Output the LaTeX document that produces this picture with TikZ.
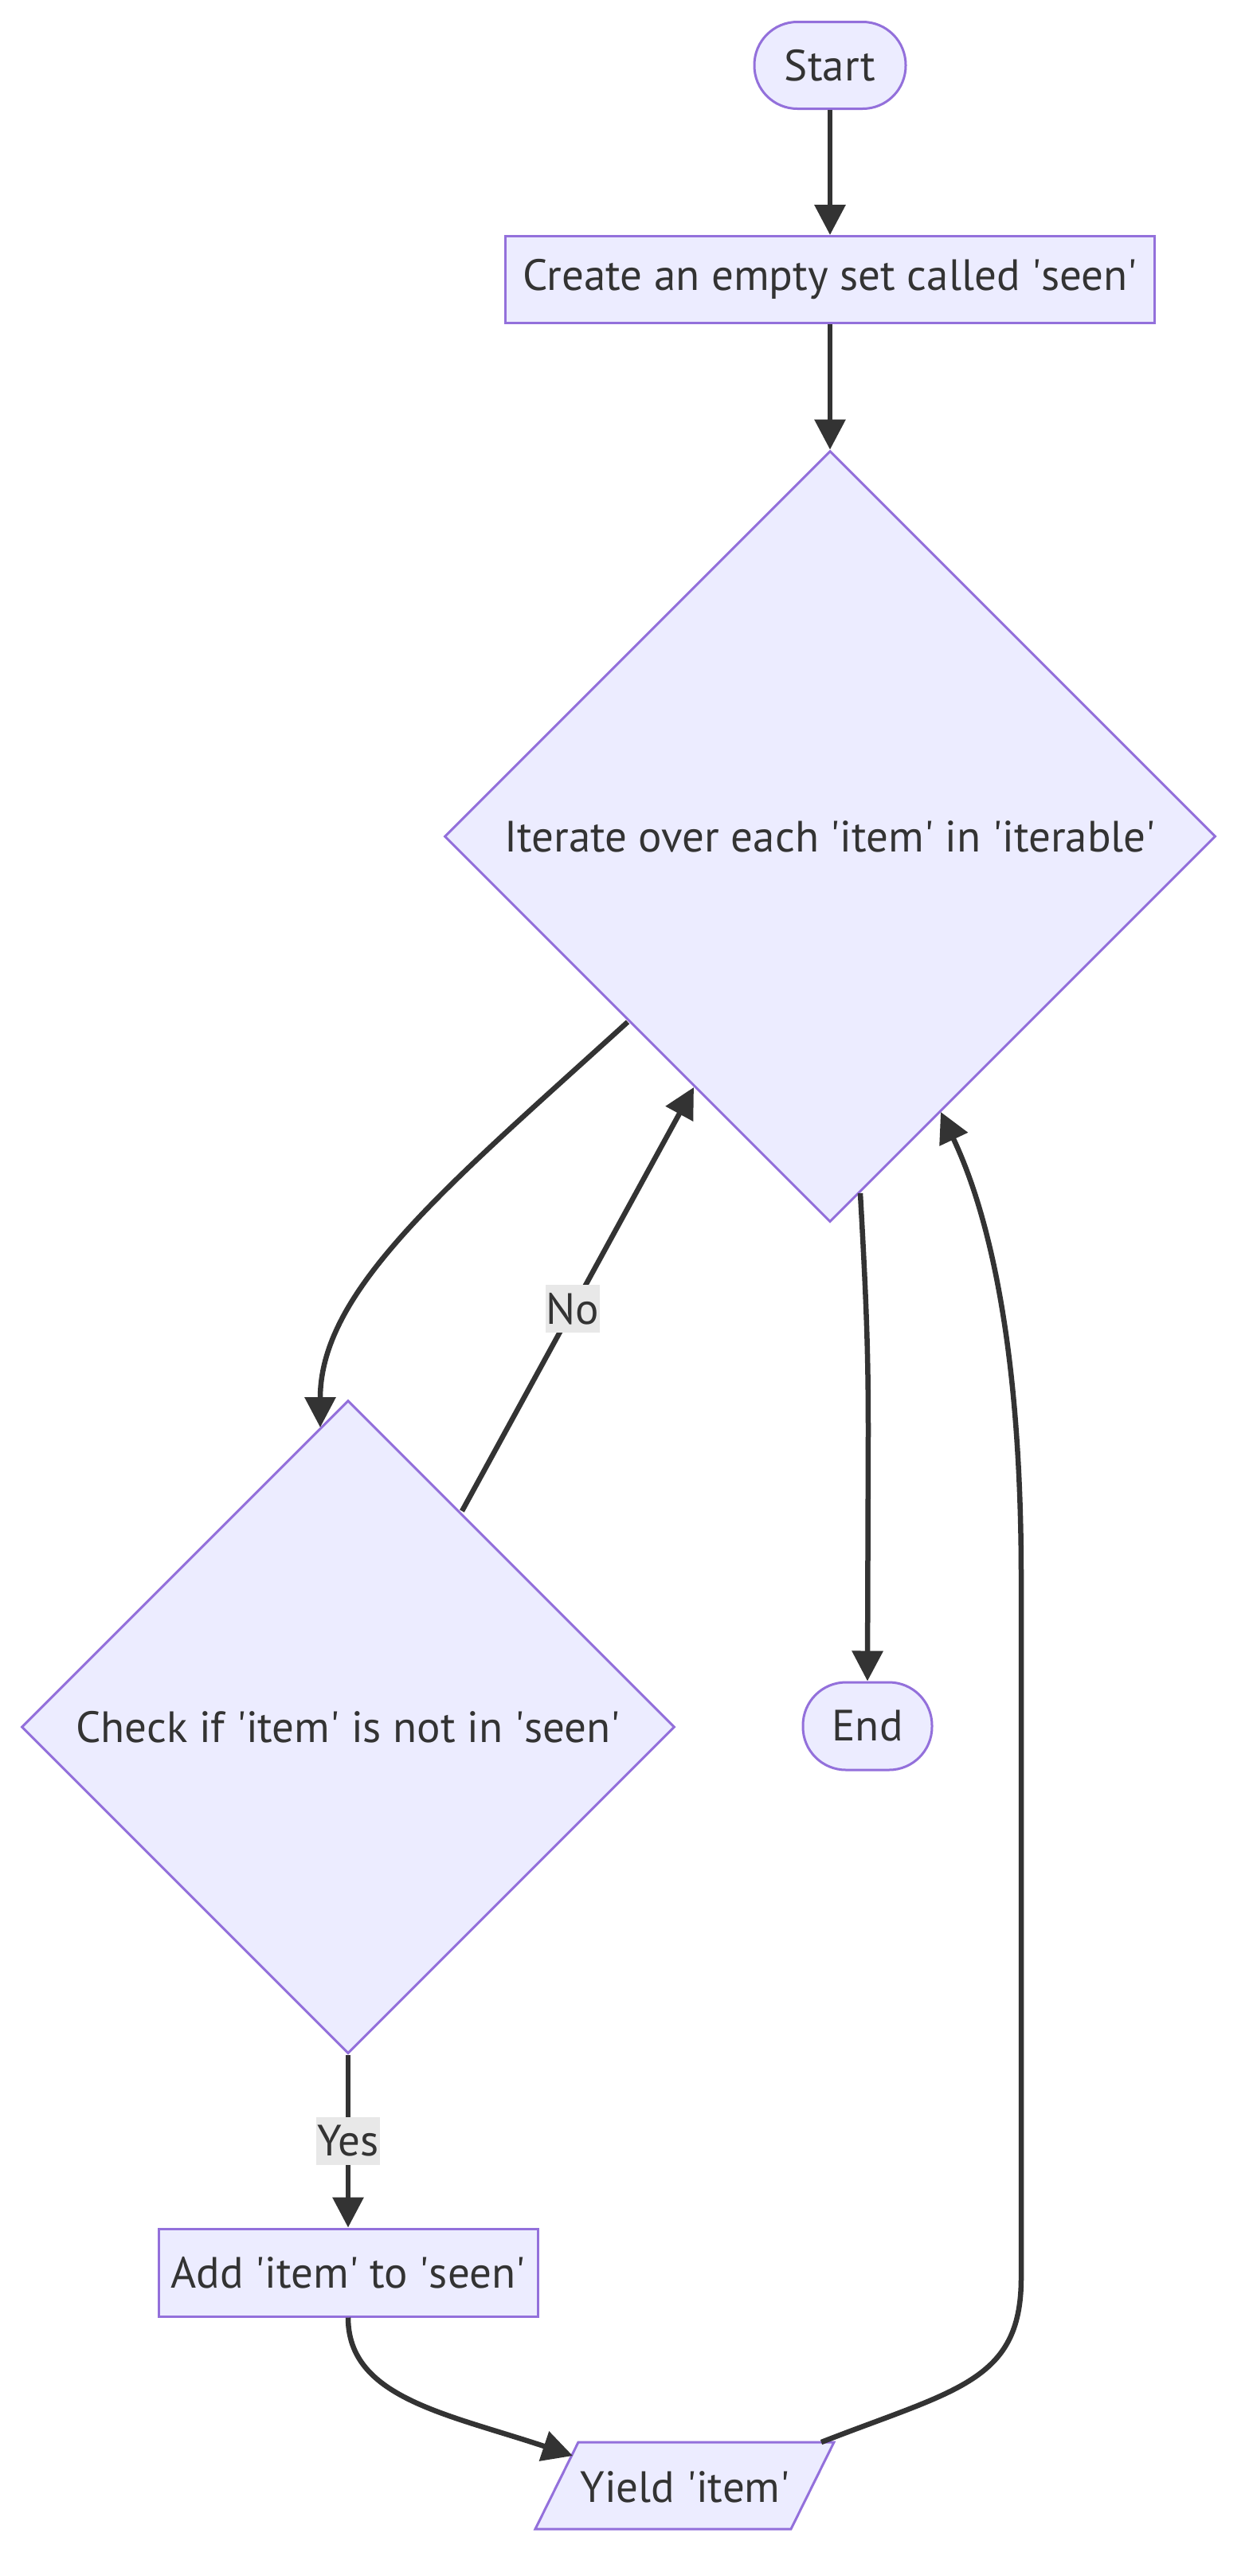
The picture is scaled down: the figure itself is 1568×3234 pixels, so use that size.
\documentclass[tikz,border=0pt]{standalone}
\usepackage{fontspec}
\setmainfont{PT Sans}
\usetikzlibrary{arrows.meta,shapes.geometric}
\definecolor{nodefill}{HTML}{ECECFF}
\definecolor{nodestroke}{HTML}{9370DB}
\definecolor{edgecol}{HTML}{333333}
\definecolor{labelbg}{HTML}{E8E8E8}
\newcommand{\sq}{\textquotesingle}
\begin{document}
\begin{tikzpicture}[x=1pt,y=-1pt,
  base/.style={draw=nodestroke, fill=nodefill, line width=3pt, text=edgecol,
    font=\fontsize{55}{66}\selectfont, inner sep=0pt},
  term/.style={base, rectangle, rounded corners=54pt, minimum height=109pt},
  proc/.style={base, rectangle, minimum height=109pt},
  deci/.style={base, diamond, minimum width=968pt, minimum height=968pt},
  conn/.style={draw=edgecol, line width=6.5pt, -{Triangle[length=38pt,width=38pt]}},
  elabel/.style={fill=labelbg, text=edgecol, font=\fontsize{55}{66}\selectfont,
    inner xsep=1pt, inner ysep=0pt, minimum height=60pt}]
\fill[white] (0,0) rectangle (1568,3234);
\useasboundingbox (0,0) rectangle (1568,3234);

\node[term, minimum width=190pt] (start) at (1042,82) {Start};
\node[proc, minimum width=815pt] (create) at (1042,351) {Create an empty set called \sq seen\sq};
\node[deci] (d1) at (1042,1050) {Iterate over each \sq item\sq\ in \sq iterable\sq};
\node[deci, minimum width=820pt, minimum height=820pt] (d2) at (437,2168) {Check if \sq item\sq\ is not in \sq seen\sq};
\node[term, minimum width=162pt, minimum height=110pt] (end) at (1089,2167) {End};
\node[proc, minimum width=476pt, minimum height=110pt] (add) at (437,2853) {Add \sq item\sq\ to \sq seen\sq};
\filldraw[draw=nodestroke, fill=nodefill, line width=3pt]
  (672,3175) -- (726,3066) -- (1047,3066) -- (993,3175) -- cycle;
\node[text=edgecol, font=\fontsize{55}{66}\selectfont, inner sep=0pt] (yield) at (860,3122) {Yield \sq item\sq};

\coordinate (d1ll) at (788,1283);
\coordinate (d2ul) at (402,1792);
\coordinate (d2ur) at (580,1897);
\coordinate (d1llin) at (871,1365);
\coordinate (d1lr) at (1080,1498);
\coordinate (d1lrin) at (1181,1396);
\coordinate (yieldtl) at (719,3083);
\coordinate (yieldtr) at (1031,3066);

\draw[conn] (start.south) -- (create.north);
\draw[conn] (create.south) -- (d1.north);
\draw[conn] (d1ll) .. controls (560,1490) and (402,1620) .. (d2ul);
\draw[conn] (d2ur) -- node[elabel, pos=0.477] {No} (d1llin);
\draw[conn] (d1lr) .. controls (1088,1640) and (1090,1700) .. (1090,1800) -- (end.north);
\draw[conn] (d2.south) -- node[elabel, pos=0.5] {Yes} (add.north);
\draw[conn] (add.south) .. controls (437,3010) and (560,3030) .. (yieldtl);
\draw[conn] (yieldtr) .. controls (1200,3000) and (1282,2990) .. (1282,2860)
  -- (1282,1980) .. controls (1282,1670) and (1235,1510) .. (d1lrin);
\end{tikzpicture}
\end{document}
